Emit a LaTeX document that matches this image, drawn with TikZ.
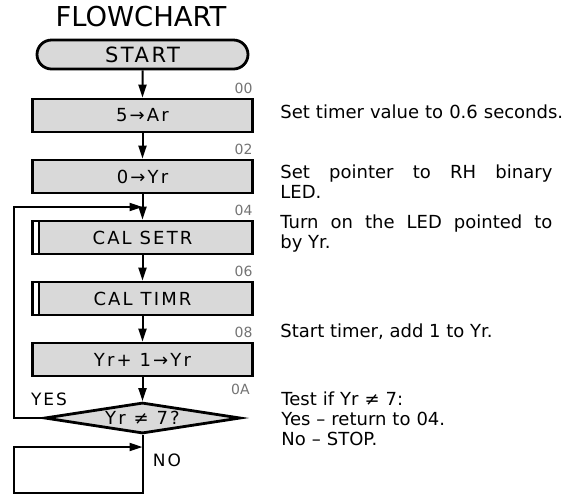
\documentclass[tikz,border=0pt]{standalone}
\usepackage{fontspec}
\setmainfont{DejaVu Sans}
\newfontfamily\boxfont[LetterSpace=12]{DejaVu Sans}
\usetikzlibrary{arrows.meta,positioning,shapes.geometric,shapes.misc}

\begin{document}
\begin{tikzpicture}[>={Triangle[length=6.5pt,width=4pt]}, x=0.5pt, y=-0.5pt,
    flow/.style={->, line width=1pt},
    stepbox/.style={draw, line width=1.4pt, fill=black!15, minimum width=110pt,
      minimum height=16.5pt, inner sep=0pt, font=\boxfont\fontsize{9}{10}\selectfont},
    subbox/.style={stepbox, path picture={
      \fill[white] (path picture bounding box.south west) rectangle
        ([xshift=2.6pt]path picture bounding box.north west);
      \draw[line width=1pt] ([xshift=3pt]path picture bounding box.south west) --
        ([xshift=3pt]path picture bounding box.north west);}},
    startbox/.style={stepbox, rounded rectangle, minimum width=105.5pt,
      minimum height=14.5pt, font=\boxfont\fontsize{10.5}{12}\selectfont},
    testbox/.style={stepbox, diamond, aspect=6, minimum width=98pt, minimum height=15.5pt},
    addr/.style={inner sep=0pt, text=black!55, font=\fontsize{7}{8}\selectfont},
    note/.style={anchor=base west, inner sep=0pt, text width=136pt, align=justify,
      font=\fontsize{9}{10}\selectfont},
    lbl/.style={inner sep=0pt, font=\boxfont\fontsize{8.5}{10}\selectfont}]
  \useasboundingbox (0,0) rectangle (568,495);

  \node[inner sep=0pt, font=\fontsize{13.7}{16}\selectfont] (title) at (141,17) {FLOWCHART};
  \node[startbox] (start) at (142.5,54.5) {START};
  \node[stepbox] (b1) at (142.5,115.5) {5→Ar};
  \node[stepbox] (b2) at (142.5,176.5) {0→Yr};
  \node[subbox] (setr) at (142.5,237.5) {CAL SETR};
  \node[subbox] (timr) at (142.5,298.5) {CAL TIMR};
  \node[stepbox] (inc) at (142.5,359.5) {Yr+ 1→Yr};
  \node[testbox] (test) at (142.5,418) {Yr ≠ 7?};

  % program addresses
  \node[addr, above left=2pt and 0.5pt of b1.north east] (a00) {00};
  \node[addr, above left=2pt and 0.5pt of b2.north east] (a02) {02};
  \node[addr, above left=2pt and 0.5pt of setr.north east] (a04) {04};
  \node[addr, above left=2pt and 0.5pt of timr.north east] (a06) {06};
  \node[addr, above left=2pt and 0.5pt of inc.north east] (a08) {08};
  \node[addr, anchor=south east] (a0a) at (250,395) {0A};

  \coordinate (join) at (142.5,207);
  \coordinate (back) at (14,207);
  \coordinate (haltin) at (142.5,447);
  \coordinate (halttl) at (14,447);
  \coordinate (haltbl) at (14,493);

  \draw[flow] (start) -- (b1);
  \draw[flow] (b1) -- (b2);
  \draw[flow] (b2) -- (setr);
  \draw[flow] (setr) -- (timr);
  \draw[flow] (timr) -- (inc);
  \draw[flow] (inc) -- (test);
  \draw[flow] (test.west) -| (back) -- (join);
  \draw[flow] (test.south) |- (haltbl) -- (halttl) -- (haltin);
  \node[lbl] (yes) at (49,399) {YES};
  \node[lbl] (no) at (167,460) {NO};

  % comments
  \node[note, text width=150pt, align=left] (n1) at (280,118) {Set timer value to 0.6 seconds.};
  \node[note] (n2) at (280,178) {Set pointer to RH binary\linebreak LED.};
  \node[note] (n3) at (280,228) {Turn on the LED pointed to\linebreak by Yr.};
  \node[note] (n4) at (280,337) {Start timer, add 1 to Yr.};
  \node[note, align=left] (n5) at (281,405) {Test if Yr ≠ 7:\\Yes -- return to 04.\\No -- STOP.};
\end{tikzpicture}
\end{document}
